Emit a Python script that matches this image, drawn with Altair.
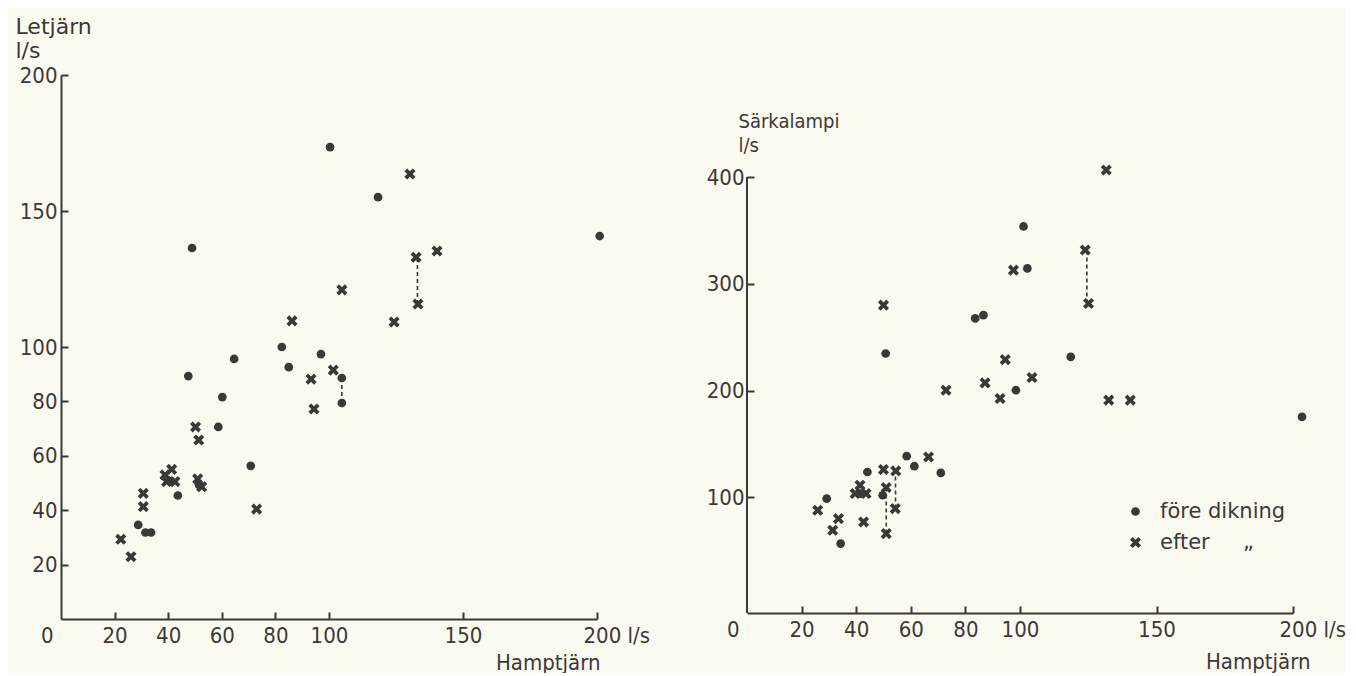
import altair as alt
import pandas as pd

# ---------------- data ----------------
# Left panel: Hamptjärn (x, l/s) vs Letjärn (y, l/s)
l_before_x = [100.4, 48.9, 118.3, 201.0, 104.8, 104.8, 82.4, 97.0, 85.0, 64.6, 47.5, 60.2,
              58.7, 70.8, 43.6, 28.8, 31.5, 33.6, 41.3, 51.5]
l_before_y = [173.5, 136.4, 155.1, 140.8, 88.6, 79.4, 100.0, 97.4, 92.6, 95.6, 89.3, 81.6,
              70.6, 56.3, 45.4, 34.6, 31.8, 31.8, 50.5, 49.3]
l_after_x = [86.2, 130.2, 132.5, 140.3, 104.8, 133.2, 124.3, 101.6, 93.3, 94.4, 50.2, 51.4,
             41.3, 38.8, 39.4, 42.5, 51.0, 52.5, 30.7, 30.7, 73.0, 22.3, 26.1]
l_after_y = [109.6, 163.6, 133.0, 135.3, 121.0, 115.8, 109.2, 91.5, 88.2, 77.2, 70.6, 65.8,
             55.0, 53.0, 50.5, 50.5, 51.5, 48.6, 46.2, 41.3, 40.4, 29.3, 22.9]
l_dash_x = [133.0, 104.8]
l_dash_y1 = [115.8, 79.4]
l_dash_y2 = [133.0, 88.6]

# Right panel: Hamptjärn (x, l/s) vs Särkalampi (y, l/s)
r_before_x = [101.3, 102.7, 50.8, 83.6, 86.6, 98.5, 118.6, 203.3, 58.5, 61.3, 71.0, 44.1,
              41.4, 49.7, 29.2, 34.3]
r_before_y = [353.7, 314.4, 234.7, 267.6, 270.6, 200.3, 231.6, 175.3, 138.5, 129.1, 122.8, 123.7,
              103.5, 101.9, 98.8, 56.6]
r_after_x = [97.6, 50.0, 94.6, 87.2, 92.7, 104.4, 72.9, 131.6, 123.9, 125.1, 132.5, 140.4,
             66.5, 50.0, 54.5, 41.4, 39.6, 43.6, 51.0, 54.3, 51.0, 25.9, 33.5, 31.4, 42.7]
r_after_y = [312.8, 280.0, 229.0, 207.2, 192.5, 212.2, 200.3, 406.6, 331.6, 281.6, 191.0, 191.0,
             137.8, 126.0, 124.7, 111.3, 103.5, 103.5, 109.1, 89.4, 66.0, 87.8, 80.0, 69.1, 76.9]
r_dash_x = [124.5, 54.4, 51.0]
r_dash_y1 = [281.6, 89.4, 66.0]
r_dash_y2 = [331.6, 124.7, 109.1]

categories = ["före dikning", "efter"]
x_labels = [0, 20, 40, 60, 80, 100, 150, 200]
x_ticks = [20, 40, 60, 80, 100, 150, 200]
l_y_ticks = [20, 40, 60, 80, 100, 150, 200]
r_y_ticks = [100, 200, 300, 400]
R_YMIN, R_YTOP, R_YMAX = -8.4, 400, 495.6

# ---------------- styling ----------------
INK = "#3b3837"
BG = "#fbfaf1"
FONT = "'DejaVu Sans Condensed', 'Liberation Sans Narrow', 'DejaVu Sans', sans-serif"
WFONT = "'DejaVu Sans', sans-serif"
LW, LH = 536, 544
RW, RH = 546, 538


def xpath(k=1.8, w=0.32):
    # filled "x" (a plus sign rotated by 45 degrees)
    c = 0.70710678
    plus = [(-w, -1), (w, -1), (w, -w), (1, -w), (1, w), (w, w), (w, 1), (-w, 1),
            (-w, w), (-1, w), (-1, -w), (-w, -w)]
    p = [((x - y) * c * k / (1 + w), (x + y) * c * k / (1 + w)) for x, y in plus]
    return "M" + "L".join(f"{x:.4f},{y:.4f}" for x, y in p) + "Z"


XPATH = xpath()


def pts(bx, by, ax, ay):
    return pd.DataFrame({
        "x": bx + ax,
        "y": by + ay,
        "typ": [categories[0]] * len(bx) + [categories[1]] * len(ax),
    })


def dashes(xs, y1, y2):
    return pd.DataFrame({"x": xs, "y1": y1, "y2": y2})


shape_scale = alt.Scale(domain=categories, range=["circle", XPATH])

legend = alt.Legend(
    title=None, orient="none", legendX=1064, legendY=426,
    labelExpr="datum.label === 'efter' ? 'efter\u00a0\u00a0\u00a0\u00a0\u00a0\u201e' : datum.label",
)


def panel(df, dd, W, H, ydom, yticks, ytitle, ytx, yty, ytfont, ytsize, ylpad,
          xtx, xty, y_domain_line=True, extra=None):
    xscale = alt.Scale(domain=[0, 200], nice=False, zero=False)
    yscale = alt.Scale(domain=ydom, nice=False, zero=False)
    # main axes: labels + titles (no ticks)
    xaxis = alt.Axis(
        orient="bottom",
        values=x_labels, ticks=False, tickSize=0, labelPadding=6,
        labelAlign={"condition": [{"test": "datum.value === 0", "value": "right"},
                                  {"test": "datum.value === 200", "value": "left"}],
                    "value": "center"},
        labelOffset={"condition": [{"test": "datum.value === 0", "value": -8},
                                   {"test": "datum.value === 200", "value": -14}],
                     "value": 0},
        labelExpr="datum.value === 200 ? '200 l/s' : datum.label",
        title="Hamptjärn", titleX=xtx, titleY=xty, titleAlign="right", titleAnchor="end",
        titleBaseline="alphabetic", titleFontSize=22,
    )
    yaxis = alt.Axis(
        orient="left",
        values=yticks, ticks=False, tickSize=0, labelPadding=ylpad,
        title=ytitle, titleAngle=0, titleAlign="left", titleX=ytx, titleY=yty,
        titleBaseline="alphabetic", titleFont=ytfont, titleFontSize=ytsize,
        domain=y_domain_line,
    )
    # tick-only axes, moved onto the axis lines so that ticks point inwards
    xtick_axis = alt.Axis(orient="top", offset=-H, values=x_ticks, labels=False,
                          domain=False, title=None, ticks=True, tickSize=7)
    ytick_axis = alt.Axis(orient="right", offset=-W, values=yticks, labels=False,
                          domain=False, title=None, ticks=True, tickSize=7)

    points = alt.Chart(df).mark_point(filled=True, opacity=1, color=INK, strokeWidth=0,
                                      size=76).encode(
        x=alt.X("x:Q", scale=xscale, axis=xaxis),
        y=alt.Y("y:Q", scale=yscale, axis=yaxis),
        shape=alt.Shape("typ:N", scale=shape_scale, legend=legend),
    )
    rules = alt.Chart(dd).mark_rule(color=INK, strokeWidth=1.6, strokeDash=[4, 3]).encode(
        x=alt.X("x:Q", scale=xscale, axis=xtick_axis),
        y=alt.Y("y1:Q", scale=yscale, axis=ytick_axis),
        y2="y2:Q",
    )
    base = points if extra is None else alt.layer(points, extra)
    return alt.layer(base, rules).resolve_scale(x="independent", y="independent")


left = panel(pts(l_before_x, l_before_y, l_after_x, l_after_y),
             dashes(l_dash_x, l_dash_y1, l_dash_y2),
             LW, LH, [0, 200], l_y_ticks, ["Letjärn", "l/s"], -46, -42, WFONT, 22, 4,
             539, 50).properties(width=LW, height=LH)

r_axis = alt.Chart(pd.DataFrame({"a": [0]})).mark_rule(color=INK, strokeWidth=2).encode(
    x=alt.datum(0), y=alt.datum(R_YMIN), y2=alt.datum(R_YTOP))
right = panel(pts(r_before_x, r_before_y, r_after_x, r_after_y),
              dashes(r_dash_x, r_dash_y1, r_dash_y2),
              RW, RH, [R_YMIN, R_YMAX], r_y_ticks, ["Särkalampi", "l/s"], -9, 52,
              FONT, 20, 3, 563, 55, y_domain_line=False, extra=r_axis
              ).properties(width=RW, height=RH)

chart = alt.hconcat(left, right, spacing=150, bounds="flush").resolve_scale(
    x="independent", y="independent"
).properties(
    background=BG,
    padding={"left": 7, "top": 7, "right": 0, "bottom": 0},
).configure_view(stroke=None).configure_axis(
    grid=False,
    labelFont=FONT, labelFontSize=22, labelColor=INK,
    titleFont=FONT, titleFontSize=21, titleColor=INK, titleFontWeight="normal",
    titleLineHeight=24,
    domainColor=INK, domainWidth=2, tickColor=INK, tickWidth=2,
).configure_legend(
    labelFont=WFONT, labelFontSize=21, labelColor=INK, symbolFillColor=INK,
    symbolStrokeWidth=0, symbolSize=76, labelOffset=14, rowPadding=9, padding=0,
)

chart.save("out.html", embed_options={"renderer": "svg", "actions": False})
